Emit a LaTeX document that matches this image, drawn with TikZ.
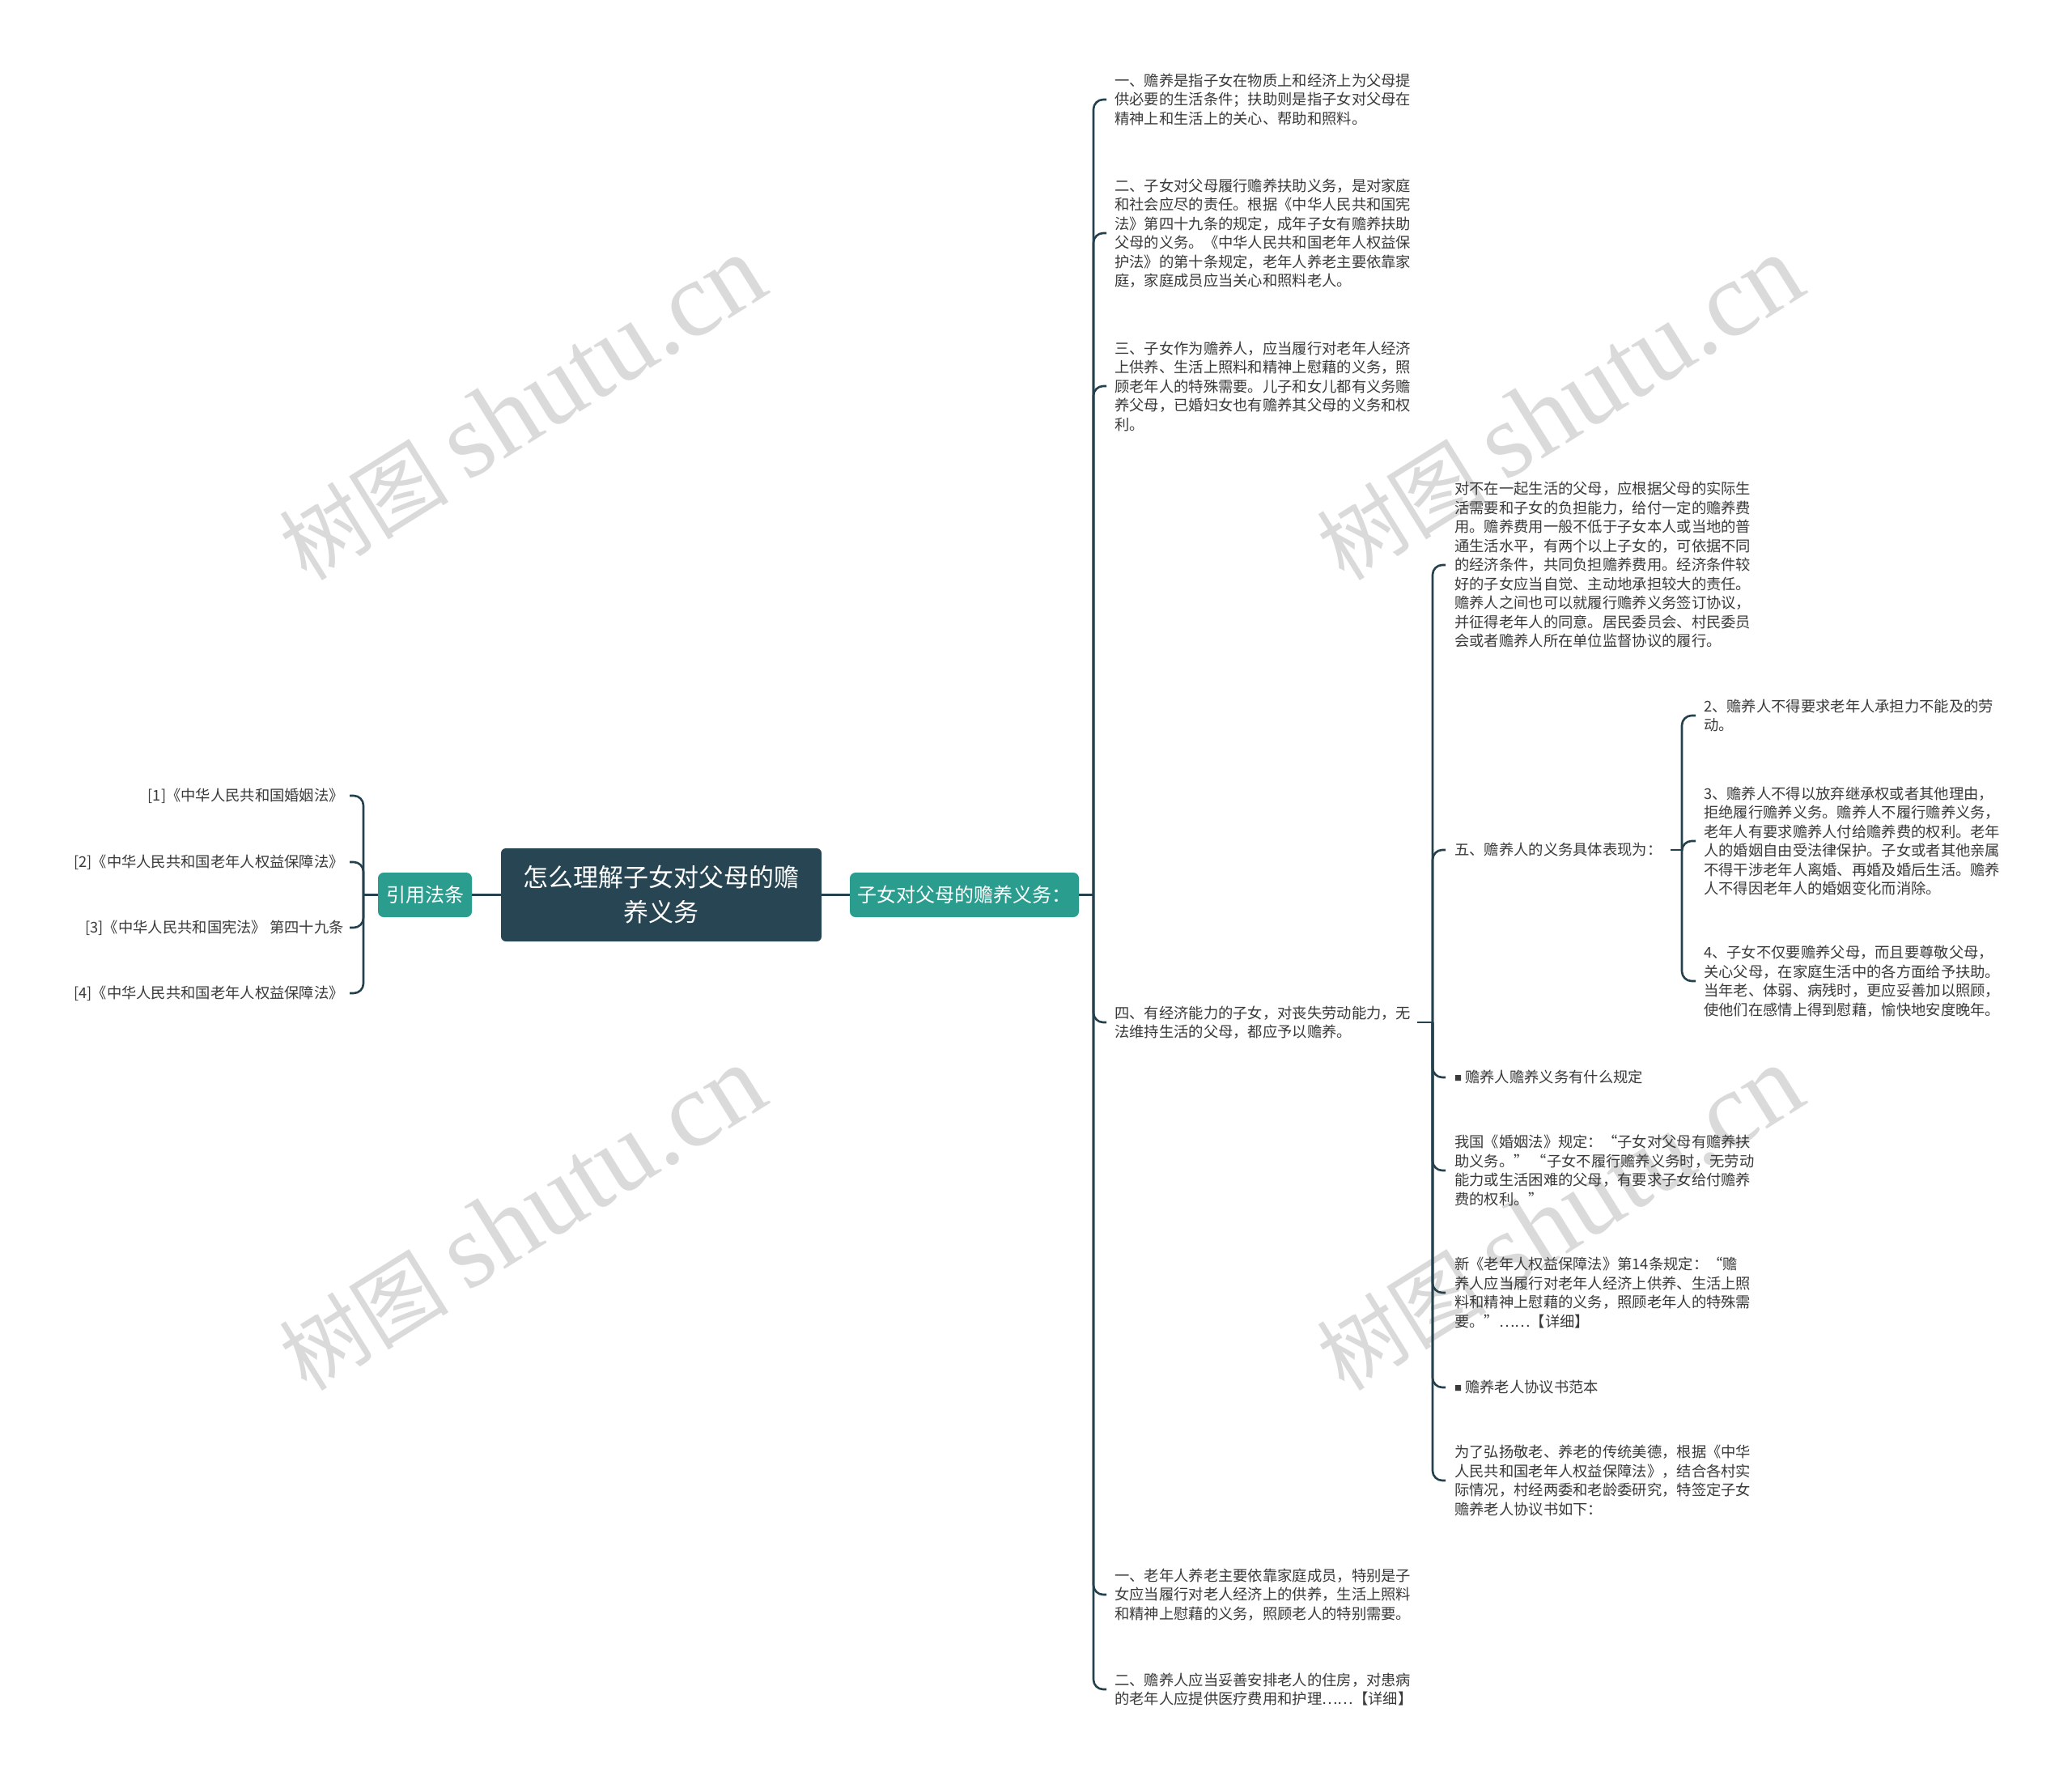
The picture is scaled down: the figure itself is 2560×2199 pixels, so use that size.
\documentclass[tikz,border=0pt]{standalone}
\usepackage{fontspec}
\setmainfont{Noto Sans CJK SC}
\newfontfamily\wmserif{Liberation Serif}
\definecolor{rootc}{HTML}{274552}
\definecolor{tealc}{HTML}{2A9D8F}
\definecolor{linec}{HTML}{24414D}
\definecolor{txt}{HTML}{3A3A3A}
\definecolor{wm}{HTML}{DADADA}
\newcommand\leaffont{\fontsize{18.3}{23.5}\selectfont}
\newcommand\bul{\raisebox{2.5pt}{\fontsize{9}{9}\selectfont ■}}
\begin{document}
\begin{tikzpicture}[x=1pt,y=-1pt,
  leaf/.style={anchor=west, inner sep=0pt, align=left, font=\leaffont, text=txt},
  lleaf/.style={anchor=east, inner sep=0pt, align=right, font=\leaffont, text=txt},
  conn/.style={draw=linec, line width=2.6pt},
  elbow/.style={conn, rounded corners=12pt},
  wmark/.style={text=wm, rotate=32, inner sep=0pt},
  topic/.style={fill=tealc, rounded corners=7pt, minimum height=55pt, text=white, font=\fontsize{24}{24}\selectfont, inner sep=0pt}
]
\path[fill=white, use as bounding box] (0,0) rectangle (2560,2199);

% watermarks
\foreach \i/\x/\y in {1/645/505, 2/1927/505, 3/645/1506, 4/1927/1506}
  \node[wmark] (wm\i) at (\x,\y) {\fontsize{105}{105}\selectfont 树图 {\wmserif\fontsize{132}{132}\selectfont shutu.cn}};

% main nodes
\node[fill=rootc, rounded corners=6pt, minimum width=396pt, minimum height=115pt, text=white, align=center, font=\fontsize{31}{43}\selectfont, inner sep=0pt] (root) at (817,1105.5) {怎么理解子女对父母的赡\\养义务};
\node[topic, minimum width=116pt] (cite) at (525,1105.5) {引用法条};
\node[topic, minimum width=283pt] (sub) at (1191.5,1105.5) {子女对父母的赡养义务：};

\coordinate (t0) at (449,1105.5);
\coordinate (t1) at (1351,1105.5);
\draw[conn] (cite.east) -- (root.west);
\draw[conn] (root.east) -- (sub.west);
\draw[conn] (cite.west) -- (t0);
\draw[conn] (sub.east) -- (t1);

% left leaves
\node[lleaf] (L1) at (425,983) {[1]《中华人民共和国婚姻法》};
\node[lleaf] (L2) at (425,1065) {[2]《中华人民共和国老年人权益保障法》};
\node[lleaf] (L3) at (425,1146) {[3]《中华人民共和国宪法》 第四十九条};
\node[lleaf] (L4) at (425,1227) {[4]《中华人民共和国老年人权益保障法》};
\foreach \n in {L1,L2,L3,L4} \draw[elbow] (t0) |- ([xshift=7pt]\n.east);

% first level right
\node[leaf] (a) at (1377,123) {一、赡养是指子女在物质上和经济上为父母提\\供必要的生活条件；扶助则是指子女对父母在\\精神上和生活上的关心、帮助和照料。};
\node[leaf] (b) at (1377,288) {二、子女对父母履行赡养扶助义务，是对家庭\\和社会应尽的责任。根据《中华人民共和国宪\\法》第四十九条的规定，成年子女有赡养扶助\\父母的义务。《中华人民共和国老年人权益保\\护法》的第十条规定，老年人养老主要依靠家\\庭，家庭成员应当关心和照料老人。};
\node[leaf] (c) at (1377,477) {三、子女作为赡养人，应当履行对老年人经济\\上供养、生活上照料和精神上慰藉的义务，照\\顾老年人的特殊需要。儿子和女儿都有义务赡\\养父母，已婚妇女也有赡养其父母的义务和权\\利。};
\node[leaf] (d) at (1377,1263) {四、有经济能力的子女，对丧失劳动能力，无\\法维持生活的父母，都应予以赡养。};
\node[leaf] (e) at (1377,1970) {一、老年人养老主要依靠家庭成员，特别是子\\女应当履行对老人经济上的供养，生活上照料\\和精神上慰藉的义务，照顾老人的特别需要。};
\node[leaf] (f) at (1377,2087) {二、赡养人应当妥善安排老人的住房，对患病\\的老年人应提供医疗费用和护理……【详细】};
\foreach \n in {a,b,c,d,e,f} \draw[elbow] (t1) |- ([xshift=-10pt]\n.west);

% second level
\coordinate (t2x) at (1770,0);
\coordinate (t2) at (d.east -| t2x);
\draw[conn] ([xshift=8pt]d.east) -- (t2);

\node[leaf] (g) at (1797,698) {对不在一起生活的父母，应根据父母的实际生\\活需要和子女的负担能力，给付一定的赡养费\\用。赡养费用一般不低于子女本人或当地的普\\通生活水平，有两个以上子女的，可依据不同\\的经济条件，共同负担赡养费用。经济条件较\\好的子女应当自觉、主动地承担较大的责任。\\赡养人之间也可以就履行赡养义务签订协议，\\并征得老年人的同意。居民委员会、村民委员\\会或者赡养人所在单位监督协议的履行。};
\node[leaf] (h) at (1797,1050) {五、赡养人的义务具体表现为：};
\node[leaf] (i) at (1797,1331) {\bul\ 赡养人赡养义务有什么规定};
\node[leaf] (j) at (1797,1446) {我国《婚姻法》规定：“子女对父母有赡养扶\\助义务。” “子女不履行赡养义务时，无劳动\\能力或生活困难的父母，有要求子女给付赡养\\费的权利。”};
\node[leaf] (k) at (1797,1597) {新《老年人权益保障法》第14条规定：“赡\\养人应当履行对老年人经济上供养、生活上照\\料和精神上慰藉的义务，照顾老年人的特殊需\\要。”……【详细】};
\node[leaf] (l) at (1797,1714) {\bul\ 赡养老人协议书范本};
\node[leaf] (m) at (1797,1829) {为了弘扬敬老、养老的传统美德，根据《中华\\人民共和国老年人权益保障法》，结合各村实\\际情况，村经两委和老龄委研究，特签定子女\\赡养老人协议书如下：};
\foreach \n in {g,h,i,j,k,l,m} \draw[elbow] (t2) |- ([xshift=-11pt]\n.west);

% third level
\coordinate (t3x) at (2078,0);
\coordinate (t3) at (h.east -| t3x);
\draw[conn] ([xshift=10pt]h.east) -- (t3);

\node[leaf] (n) at (2105,884) {2、赡养人不得要求老年人承担力不能及的劳\\动。};
\node[leaf] (o) at (2105,1039) {3、赡养人不得以放弃继承权或者其他理由，\\拒绝履行赡养义务。赡养人不履行赡养义务，\\老年人有要求赡养人付给赡养费的权利。老年\\人的婚姻自由受法律保护。子女或者其他亲属\\不得干涉老年人离婚、再婚及婚后生活。赡养\\人不得因老年人的婚姻变化而消除。};
\node[leaf] (p) at (2105,1212) {4、子女不仅要赡养父母，而且要尊敬父母，\\关心父母，在家庭生活中的各方面给予扶助。\\当年老、体弱、病残时，更应妥善加以照顾，\\使他们在感情上得到慰藉，愉快地安度晚年。};
\foreach \n in {n,o,p} \draw[elbow] (t3) |- ([xshift=-10pt]\n.west);
\end{tikzpicture}
\end{document}
